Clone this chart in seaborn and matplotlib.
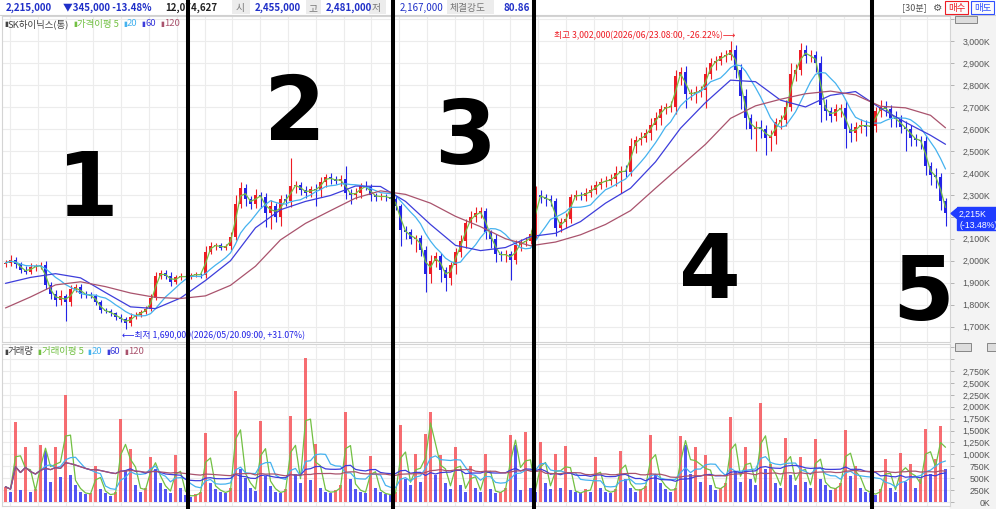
import numpy as np
import pandas as pd
import matplotlib
matplotlib.use("Agg")
import matplotlib.pyplot as plt
import seaborn as sns
from matplotlib.patches import Rectangle, Polygon
from matplotlib.lines import Line2D
from matplotlib.transforms import blended_transform_factory

# 30-minute candles (K won), open = previous close
first_open = 1985
closes = [
    1990, 2005, 1985, 1960, 1950, 1970, 1975, 1980, 1890, 1850,
    1820, 1840, 1810, 1870, 1880, 1850, 1845, 1840, 1810, 1775,
    1770, 1760, 1745, 1735, 1715, 1745, 1755, 1765, 1780, 1830,
    1930, 1945, 1930, 1905, 1925, 1930, 1925,
    1935, 1938, 1935, 2040, 2068, 2070, 2060, 2065, 2110, 2260,
    2330, 2280, 2260, 2300, 2290, 2215, 2250, 2200, 2280, 2270,
    2340, 2345, 2320, 2310, 2325, 2320, 2360, 2380, 2370, 2365,
    2370, 2310, 2300, 2310, 2340, 2335, 2300, 2290, 2295, 2290,
    2280,
    2250, 2140, 2130, 2100, 2105, 2050, 1940, 2000, 2020, 1960,
    1920, 1980, 2040, 2090, 2170, 2200, 2215, 2225, 2130, 2100,
    2030, 2025, 2030, 2005, 2070, 2085, 2090, 2120,
    2300, 2290, 2280, 2270, 2150, 2175, 2190, 2290, 2300, 2295,
    2310, 2320, 2345, 2360, 2365, 2370, 2400, 2410, 2405, 2520,
    2550, 2560, 2580, 2620, 2650, 2690, 2700, 2700, 2840, 2860,
    2760, 2760, 2770, 2775, 2850, 2900, 2910, 2930, 2935, 2960,
    2870, 2750, 2650, 2600, 2610, 2600, 2560, 2570, 2630, 2640,
    2700, 2850, 2870, 2960, 2930, 2935, 2900, 2710, 2680, 2660,
    2690, 2695, 2600, 2580, 2610, 2620, 2610, 2615,
    2680, 2700, 2690, 2650, 2645, 2610, 2600, 2560, 2550, 2545,
    2430, 2390, 2380, 2270, 2215,
]
upper_wick = [
    15, 20, 12, 10, 14, 18, 10, 15, 20, 12,
    15, 25, 10, 20, 12, 15, 10, 12, 8, 10,
    12, 10, 8, 12, 10, 15, 10, 12, 15, 20,
    20, 15, 12, 18, 10, 12, 10, 10, 12, 8,
    25, 15, 10, 12, 10, 20, 40, 30, 20, 15,
    25, 15, 20, 25, 15, 20, 25, 126, 20, 15,
    20, 15, 25, 20, 15, 20, 15, 20, 60, 15,
    20, 15, 25, 15, 10, 12, 10, 12, 15, 10,
    20, 15, 10, 12, 15, 25, 20, 15, 10, 15,
    20, 25, 20, 25, 30, 20, 15, 10, 20, 15,
    20, 15, 25, 15, 20, 20, 40, 20, 15, 20,
    15, 20, 25, 15, 20, 15, 20, 25, 20, 15,
    20, 25, 30, 20, 24, 40, 20, 25, 20, 30,
    25, 20, 20, 25, 30, 20, 25, 20, 25, 20,
    30, 25, 20, 20, 25, 42, 20, 25, 30, 20,
    25, 30, 20, 25, 20, 25, 30, 50, 25, 30,
    20, 25, 20, 30, 25, 20, 25, 20, 30, 25,
    20, 25, 20, 25, 20, 30, 25, 20, 30, 20,
    25, 20, 15, 20, 25, 20, 30, 20, 15,
]
lower_wick = [
    12, 15, 20, 15, 12, 10, 15, 12, 20, 25,
    25, 20, 84, 15, 12, 20, 15, 10, 12, 15,
    10, 12, 15, 13, 25, 10, 12, 10, 8, 10,
    10, 15, 12, 20, 10, 15, 12, 8, 10, 12,
    15, 10, 20, 12, 10, 15, 15, 20, 30, 25,
    20, 50, 60, 70, 25, 40, 20, 25, 30, 20,
    25, 20, 70, 30, 25, 20, 15, 25, 30, 40,
    20, 25, 15, 30, 20, 15, 20, 15, 20, 72,
    30, 25, 60, 30, 82, 40, 30, 56, 60, 30,
    40, 25, 30, 20, 25, 20, 30, 40, 35, 25,
    30, 95, 20, 25, 20, 15, 20, 25, 30, 20,
    36, 20, 25, 20, 15, 20, 25, 20, 15, 20,
    25, 20, 30, 90, 25, 20, 30, 25, 20, 30,
    25, 30, 20, 25, 30, 40, 66, 30, 40, 25,
    80, 25, 30, 20, 25, 20, 40, 60, 50, 45,
    100, 40, 80, 60, 40, 30, 25, 20, 30, 25,
    30, 25, 40, 77, 40, 30, 25, 35, 89, 40,
    35, 30, 40, 58, 30, 25, 30, 40, 35, 30,
    100, 40, 30, 35, 40, 45, 50, 40, 55,
]
volume = [
    320, 220, 1680, 260, 1155, 200, 280, 1190, 1070, 420,
    1160, 520, 2250, 560, 350, 220, 160, 180, 750, 280,
    180, 130, 220, 1740, 680, 1110, 360, 220, 300, 950,
    700, 400, 280, 180, 990, 300, 150, 110, 160, 220,
    1450, 400, 280, 220, 180, 300, 2330, 700, 500, 300,
    240, 1700, 540, 340, 220, 180, 280, 1800, 580, 400,
    3020, 460, 1220, 300, 220, 190, 250, 350, 1890, 480,
    280, 220, 190, 970, 300, 200, 160, 150, 220, 1620,
    480, 350, 1000, 420, 1430, 1890, 560, 990, 400, 280,
    1150, 350, 220, 760, 300, 200, 1010, 280, 180, 220,
    300, 1410, 1190, 260, 1470, 300, 220, 1260, 400, 280,
    1010, 300, 1180, 260, 200, 180, 280, 220, 950, 300,
    220, 190, 280, 1070, 480, 300, 220, 280, 340, 1410,
    580, 400, 280, 220, 300, 1380, 1200, 580, 1160, 420,
    990, 350, 260, 300, 400, 1780, 660, 420, 1150, 480,
    350, 2080, 700, 800, 400, 300, 1350, 560, 350, 950,
    420, 300, 1320, 480, 350, 260, 300, 400, 1510, 540,
    750, 300, 220, 180, 150, 280, 900, 300, 220, 1020,
    420, 800, 300, 480, 1530, 580, 900, 1600, 700,
]
# 60 / 120 period price averages read every 5 candles (+ last candle)
ma60_vals = [
    1897, 1924, 1941, 1922, 1855, 1790, 1782, 1830, 1910, 2000,
    2150, 2232, 2270, 2297, 2340, 2338, 2270, 2165, 2070, 2046,
    2060, 2110, 2125, 2178, 2262, 2330, 2450, 2603, 2720, 2822,
    2815, 2731, 2700, 2753, 2770, 2694, 2630, 2571, 2530,
]
ma120_vals = [
    1785, 1835, 1890, 1904, 1882, 1853, 1833, 1828, 1840, 1888,
    1975, 2095, 2170, 2228, 2285, 2318, 2302, 2262, 2202, 2155,
    2100, 2068, 2085, 2118, 2165, 2228, 2330, 2430, 2530, 2648,
    2705, 2735, 2760, 2772, 2755, 2703, 2696, 2662, 2605,
]
phase_bounds = [36.5, 77.5, 105.6, 173.3]
phase_labels = ["1", "2", "3", "4", "5"]

RED, BLUE = "#ee1c24", "#2323e6"
C5, C20, C60, C120 = "#72c043", "#45b2ef", "#3d3ddb", "#a9536d"
HDR_BLUE = "#1f2fc8"

df = pd.DataFrame({"close": closes, "up_w": upper_wick, "lo_w": lower_wick, "vol": volume})
df["idx"] = np.arange(len(df))
df["open"] = df["close"].shift(1).fillna(first_open)
df["high"] = df[["open", "close"]].max(axis=1) + df["up_w"]
df["low"] = df[["open", "close"]].min(axis=1) - df["lo_w"]
df["up"] = df["close"] >= df["open"]
# volume bars: red when volume grew vs the previous bar, blue when it shrank
df["vol_up"] = df["vol"] >= df["vol"].shift(1).fillna(0)
df["ma5"] = df["close"].rolling(2, min_periods=1).mean()
df["ma20"] = df["close"].rolling(8, min_periods=1).mean()
df["v5"] = df["vol"].rolling(2, min_periods=1).mean()
df["v20"] = df["vol"].rolling(8, min_periods=1).mean()
df["v60"] = df["vol"].rolling(24, min_periods=1).mean()
df["v120"] = df["vol"].rolling(48, min_periods=1).mean()
ma_idx = np.r_[np.arange(0, len(df), 5), len(df) - 1]

sns.set_theme(style="white")
plt.rcParams["font.family"] = ["Noto Sans CJK KR", "DejaVu Sans"]

W, H = 996, 510
fig = plt.figure(figsize=(W / 100, H / 100), dpi=100)


def box(x0, y0, x1, y1):
    return [x0 / W, 1 - y1 / H, (x1 - x0) / W, (y1 - y0) / H]


def put(x, y, s, **kw):
    return fig.text(x / W, 1 - y / H, s, **kw)


ax = fig.add_axes(box(2, 17, 950, 343))
axv = fig.add_axes(box(2, 345, 950, 507))

# candles
colors = np.where(df["up"], RED, BLUE)
ax.vlines(df["idx"], df["low"], df["high"], colors=colors, lw=0.8, zorder=3)
body = (df["close"] - df["open"]).abs().clip(lower=4)
ax.bar(df["idx"], body, bottom=df[["open", "close"]].min(axis=1), width=0.62,
       color=colors, lw=0, zorder=4)

sns.lineplot(data=df, x="idx", y="ma5", ax=ax, color=C5, lw=0.9, zorder=5)
sns.lineplot(data=df, x="idx", y="ma20", ax=ax, color=C20, lw=0.9, zorder=5)
sns.lineplot(x=ma_idx, y=ma60_vals, ax=ax, color=C60, lw=0.9, zorder=5)
sns.lineplot(x=ma_idx, y=ma120_vals, ax=ax, color=C120, lw=0.9, zorder=5)

# volume
vcol = np.where(df["vol_up"], "#f5494f", "#2b2bf0")
axv.bar(df["idx"], df["vol"], width=0.5, color=vcol, lw=0, alpha=0.8, zorder=3)
for col, c in [("v5", C5), ("v20", C20), ("v60", C60), ("v120", C120)]:
    sns.lineplot(data=df, x="idx", y=col, ax=axv, color=c, lw=0.9, zorder=5)

xlim = (-0.7, len(df) - 0.1)
vgrid = np.arange(0.9, len(df), 5.56)
for a in (ax, axv):
    a.set_xlim(*xlim)
    a.set_xticks(vgrid)
    a.grid(True, color="#ececec", lw=0.8, zorder=0)
    a.set_xlabel("")
    a.set_ylabel("")
    a.yaxis.set_ticks_position("right")
    a.tick_params(axis="y", right=True, left=False, length=3, width=0.6,
                  color="#aaaaaa", direction="out", labelright=False, labelleft=False)
    a.tick_params(axis="x", bottom=False, labelbottom=False)
    for s in a.spines.values():
        s.set_color("#d4d4d4")
        s.set_linewidth(0.8)

price_ticks = np.arange(1700, 3001, 100)
ax.set_ylim(1630, 3114)
ax.set_yticks(np.r_[price_ticks, 3100])
vol_ticks = np.arange(0, 2751, 250)
axv.set_ylim(-84, 3319)
axv.set_yticks(np.r_[vol_ticks, 3000, 3250])
for a in (ax, axv):
    a.tick_params(axis="y", labelright=False, labelleft=False)

last = df["close"].iloc[-1]

# right axis panel
fig.patches.append(Rectangle((950 / W, 0), 46 / W, 493 / H, transform=fig.transFigure,
                             color="#f3f3f3", zorder=-5))
tr_p = blended_transform_factory(fig.transFigure, ax.transData)
for v in price_ticks:
    if abs(v - last) < 40:  # hidden behind the last-price tag
        continue
    ax.text(990 / W, v, f"{v:,}K", transform=tr_p, ha="right", va="center",
            fontsize=6.3, color="#555555", family=["Liberation Sans"], clip_on=False)
tr_v = blended_transform_factory(fig.transFigure, axv.transData)
for v in vol_ticks:
    axv.text(990 / W, v, f"{v:,}K", transform=tr_v, ha="right", va="center",
             fontsize=6.3, color="#555555", family=["Liberation Sans"], clip_on=False)

# last price tag
yf = ax.transData.transform((0, last))[1] / H
fig.patches.append(Rectangle((957 / W, yf - 17 / H), 39 / W, 23 / H,
                             transform=fig.transFigure, color="#1f3cff", zorder=6))
fig.patches.append(Polygon([(951 / W, yf), (957 / W, yf + 5 / H), (957 / W, yf - 5 / H)],
                           closed=True, transform=fig.transFigure, color="#1f3cff", zorder=6))
fig.text(959 / W, yf, f"{last:,.0f}K", color="white", fontsize=6.3,
         va="center", family=["Liberation Sans"], zorder=7)
fig.text(959 / W, yf - 11 / H, "(-13.48%)", color="white", fontsize=6.3,
         va="center", family=["Liberation Sans"], zorder=7)

# small panel buttons
for x0, y0, w, h in [(955, 17, 22, 7), (955, 344, 16, 8), (987, 344, 9, 8)]:
    fig.patches.append(Rectangle((x0 / W, 1 - (y0 + h) / H), w / W, h / H,
                                 transform=fig.transFigure, facecolor="#dddddd",
                                 edgecolor="#777777", lw=0.6, zorder=6))

# high / low notes
hi_i = int(df["high"].idxmax())
lo_i = int(df["low"].idxmin())
hi, lo = df["high"].max(), df["low"].min()
ax.text(hi_i + 0.9, hi + 25, f"최고 {hi * 1000:,.0f}(2026/06/23.08:00, {(last / hi - 1) * 100:.2f}%)⟶",
        color=RED, ha="right", va="center", fontsize=6.3, clip_on=False, zorder=6)
ax.text(lo_i - 0.6, lo - 28, f"⟵최저 {lo * 1000:,.0f}(2026/05/20.09:00, +{(last / lo - 1) * 100:.2f}%)",
        color=BLUE, ha="left", va="center", fontsize=6.3, clip_on=False, zorder=6)

# header bar
fig.patches.append(Rectangle((0, 1 - 16 / H), 1, 16 / H, transform=fig.transFigure,
                             facecolor="white", edgecolor="none", zorder=-4))
fig.lines.append(Line2D([0, 1], [1 - 16 / H, 1 - 16 / H], transform=fig.transFigure,
                        color="#d0d0d0", lw=0.8))
for x0, x1 in [(232, 250), (306, 321), (369, 386), (447, 494)]:
    fig.patches.append(Rectangle((x0 / W, 1 - 15 / H), (x1 - x0) / W, 14 / H,
                                 transform=fig.transFigure, facecolor="#ececec",
                                 edgecolor="none", zorder=-3))
hdr = [
    (6, "2,215,000", HDR_BLUE, "bold"), (63, "▼345,000 -13.48%", HDR_BLUE, "bold"),
    (165, "12,074,627", "#222222", "bold"), (236, "시", "#777777", "normal"),
    (255, "2,455,000", HDR_BLUE, "bold"), (308, "고", "#777777", "normal"),
    (326, "2,481,000", HDR_BLUE, "bold"), (372, "저", "#777777", "normal"),
    (400, "2,167,000", HDR_BLUE, "normal"), (450, "체결강도", "#777777", "normal"),
    (503, "80.86", HDR_BLUE, "bold"),
]
for x, s, c, wt in hdr:
    put(x, 8, s, color=c, fontsize=7, fontweight=wt, va="center")
put(902, 8, "[30분]", color="#555555", fontsize=6.5, va="center")
put(933, 8, "⚙", color="#555555", fontsize=7.5, va="center", family=["DejaVu Sans"])
for x0, s, c in [(945, "매수", RED), (971, "매도", "#3050ff")]:
    fig.patches.append(Rectangle((x0 / W, 1 - 15 / H), 23 / W, 13 / H, transform=fig.transFigure,
                                 facecolor="#fbfbfb", edgecolor=c, lw=0.8, zorder=2))
    put(x0 + 11.5, 8.5, s, color=c, fontsize=6.8, ha="center", va="center", zorder=3)

# legends
renderer = fig.canvas.get_renderer()


def legend_row(y, items, x=4):
    for label, color in items:
        t = put(x, y, "▮", color=color, fontsize=5, va="center", family=["DejaVu Sans"])
        x = t.get_window_extent(renderer).x1
        t = put(x, y, label, color=color, fontsize=6.8, va="center")
        x = t.get_window_extent(renderer).x1 + 4


legend_row(24, [("SK하이닉스(통)", "#444444"), ("가격이평 5", C5), ("20", C20),
                ("60", C60), ("120", C120)])
legend_row(352, [("거래량", "#444444"), ("거래이평 5", C5), ("20", C20),
                 ("60", C60), ("120", C120)])

# hand drawn phase dividers and numbers
for b in phase_bounds:
    xf = ax.transData.transform((b, 0))[0] / W
    fig.lines.append(Line2D([xf, xf], [0, 1], transform=fig.transFigure, color="black",
                            lw=2.9, zorder=20))
for s, (x, y) in zip(phase_labels, [(88, 216), (295, 140), (465, 164), (710, 298), (923, 320)]):
    put(x, y, s, color="black", fontsize=64, fontweight="heavy", ha="center",
        va="baseline", family=["DejaVu Sans"], zorder=21)

fig.savefig("out.png", dpi=100)
